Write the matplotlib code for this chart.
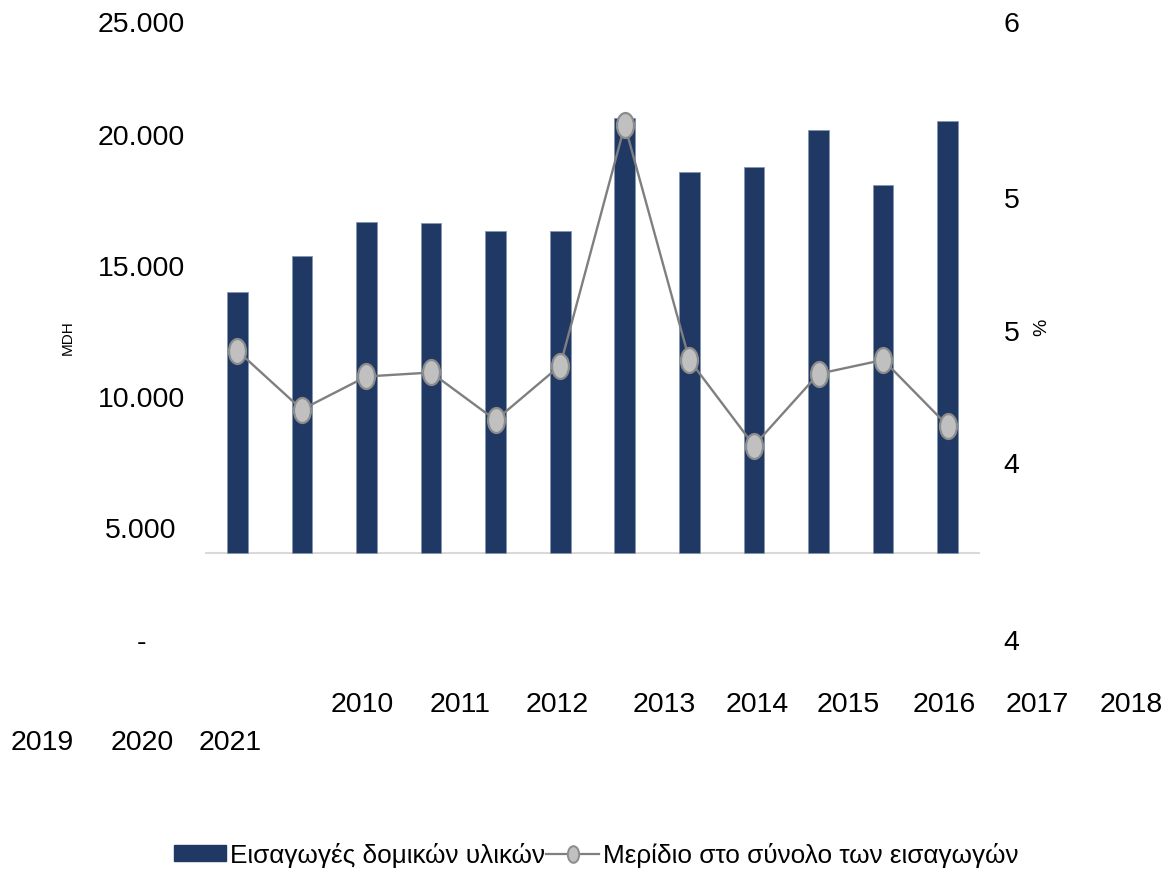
import matplotlib
matplotlib.use('Agg')
import matplotlib.pyplot as plt
from matplotlib.path import Path
from matplotlib.lines import Line2D
from matplotlib.patches import Patch
from matplotlib.ticker import FormatStrFormatter
import numpy as np

# ---------------- data ----------------
years = ['2010', '2011', '2012', '2013', '2014', '2015',
         '2016', '2017', '2018', '2019', '2020', '2021']
imports_mdh = [14000, 15370, 16690, 16650, 16340, 16350,
               20640, 18600, 18790, 20180, 18090, 20530]
share_pct = [4.739, 4.561, 4.661, 4.673, 4.529, 4.694,
             5.421, 4.711, 4.452, 4.669, 4.711, 4.512]
left_tick_labels = ['25.000', '20.000', '15.000', '10.000', '5.000', '-']
bar_label = 'Εισαγωγές δομικών υλικών'
line_label = 'Μερίδιο στο σύνολο των εισαγωγών'

# ---------------- layout ----------------
W, H = 1172, 871
LEFT_LIM = (725, 24313)
RIGHT_LIM = (3.864, 5.733)
BASE = 4046
# x label positions (pixels) as they appear in the original (wrapped row)
year_pos = [(362, 705), (460, 705), (557, 705), (664, 705), (757, 705),
            (848, 705), (944, 705), (1037, 705), (1131, 705),
            (42, 743), (142, 743), (230, 743)]

plt.rcParams['font.family'] = ['Liberation Sans', 'DejaVu Sans']
TICK_FS = 20.5

fig = plt.figure(figsize=(W / 100, H / 100), dpi=100)
ax = fig.add_axes([205 / W, 1 - 640 / H, 775 / W, 618 / H])

x = np.arange(len(years))
ax.set_xlim(-0.5, len(years) - 0.5)
ax.set_ylim(*LEFT_LIM)
ax.bar(x, np.array(imports_mdh) - BASE, bottom=BASE, width=0.32,
       color='#1F3864', edgecolor='#8497B0', linewidth=0.6, zorder=2)
ax.axhline(BASE, color='#D9D9D9', lw=1.5, zorder=1)
ax.set_yticks([LEFT_LIM[1], 20000, 15000, 10000, 5000, LEFT_LIM[0]])
ax.set_yticklabels(left_tick_labels)
ax.set_xticks([])
ax.tick_params(axis='y', length=0, pad=46, labelsize=TICK_FS, labelcolor='#000000')
for lab in ax.get_yticklabels():
    lab.set_ha('center')
for s in ax.spines.values():
    s.set_visible(False)

circ = Path.unit_circle()
oval = Path(circ.vertices * np.array([0.68, 1.0]), circ.codes)

ax2 = ax.twinx()
ax2.set_ylim(*RIGHT_LIM)
ax2.plot(x, share_pct, color='#7F7F7F', lw=1.7, marker=oval, ms=18,
         mfc='#C0C0C0', mec='#8C8C8C', mew=1.6, zorder=3)
ax2.set_yticks([RIGHT_LIM[0], 4.4, 4.8, 5.2, RIGHT_LIM[1]])
ax2.yaxis.set_major_formatter(FormatStrFormatter('%.0f'))
ax2.tick_params(axis='y', length=0, pad=17, labelsize=TICK_FS)
for s in ax2.spines.values():
    s.set_visible(False)

for yr, (px, py) in zip(years, year_pos):
    fig.text(px / W, 1 - py / H, yr, ha='center', va='center', fontsize=TICK_FS)

fig.text(68 / W, 1 - 338 / H, 'MDH', rotation=90, ha='center', va='center', fontsize=11)
fig.text(1042 / W, 1 - 327 / H, '%', rotation=90, ha='center', va='center', fontsize=14)

handles = [Patch(facecolor='#1F3864', edgecolor='#1F3864'),
           Line2D([], [], color='#7F7F7F', lw=1.6, marker=oval, ms=12,
                  mfc='#C0C0C0', mec='#8C8C8C', mew=1.4)]
fig.legend(handles, [bar_label, line_label], loc='center',
           bbox_to_anchor=(596 / W, 1 - 855 / H), ncol=2, frameon=False,
           prop={'family': ['Liberation Sans', 'DejaVu Sans'], 'size': 18.8},
           handlelength=2.0, handleheight=0.55, handletextpad=0.15,
           columnspacing=0.05, borderpad=0, borderaxespad=0)

fig.savefig('out.png', dpi=100)
